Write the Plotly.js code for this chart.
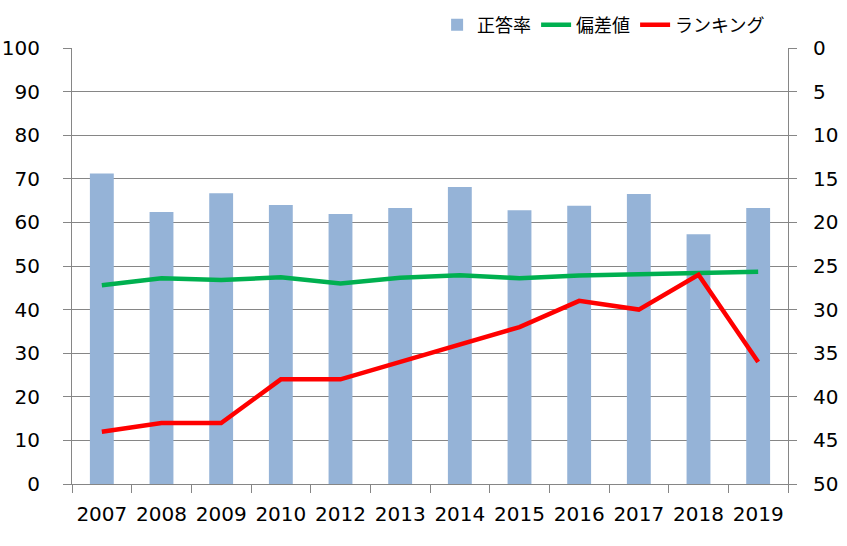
<!DOCTYPE html>
<html><head><meta charset="utf-8">
<script src="https://cdn.plot.ly/plotly-3.0.1.min.js"></script>
<style>body{margin:0;background:#fff}#chart{width:847px;height:546px}</style>
</head><body><div id="chart"></div>
<script>
const years = ["2007","2008","2009","2010","2012","2013","2014","2015","2016","2017","2018","2019"];
const correctRate = [71.2, 62.4, 66.7, 64.0, 61.9, 63.3, 68.1, 62.8, 63.8, 66.5, 57.3, 63.3];
const deviation = [45.6, 47.2, 46.8, 47.4, 46.0, 47.3, 47.9, 47.2, 47.8, 48.1, 48.6, 48.7];
const ranking = [44, 43, 43, 38, 38, 36, 34, 32, 29, 30, 26, 36];
const leftTicks = [0,10,20,30,40,50,60,70,80,90,100];
const rightTicks = [0,5,10,15,20,25,30,35,40,45,50];

const grid = '#868686';
const tickFont = {family:'"DejaVu Sans", sans-serif', size:20, color:'#000'};
const traces = [
  {type:'bar', x:years, y:correctRate, name:'正答率', marker:{color:'#95B3D7'}, yaxis:'y'},
  {type:'scatter', mode:'lines', x:years, y:deviation, name:'偏差値', line:{color:'#00B050', width:4.5}, yaxis:'y'},
  {type:'scatter', mode:'lines', x:years, y:ranking, name:'ランキング', line:{color:'#FF0000', width:4.5}, yaxis:'y2'}
];
const layout = {
  width:847, height:546,
  margin:{l:72, r:59, t:48, b:62, autoexpand:false},
  paper_bgcolor:'#fff', plot_bgcolor:'#fff',
  bargap:0.6,
  showlegend:true,
  legend:{orientation:'h', x:0.975, xanchor:'right', y:1.01, yanchor:'bottom',
          font:{family:'"Noto Sans CJK JP", sans-serif', size:18, color:'#000'},
          itemwidth:30, traceorder:'normal'},
  xaxis:{type:'category', showline:true, linecolor:grid, linewidth:1, ticks:'outside', tickson:'boundaries',
         ticklen:8, tickcolor:grid, showgrid:false, tickfont:tickFont, tickangle:0, ticklabelstandoff:12},
  yaxis:{range:[0,100], tickvals:leftTicks, ticktext:leftTicks.map(String), showline:true, linecolor:grid,
         ticks:'outside', ticklen:8, tickcolor:grid, gridcolor:grid, gridwidth:1, zeroline:false,
         tickfont:tickFont, ticklabelstandoff:19},
  yaxis2:{range:[50,0], overlaying:'y', side:'right', tickvals:rightTicks, ticktext:rightTicks.map(String),
          showline:true, linecolor:grid, ticks:'outside', ticklen:8, tickcolor:grid, showgrid:false, zeroline:false,
          tickfont:tickFont, ticklabelstandoff:12}
};
Plotly.newPlot('chart', traces, layout, {displayModeBar:false, staticPlot:true});
</script></body></html>
